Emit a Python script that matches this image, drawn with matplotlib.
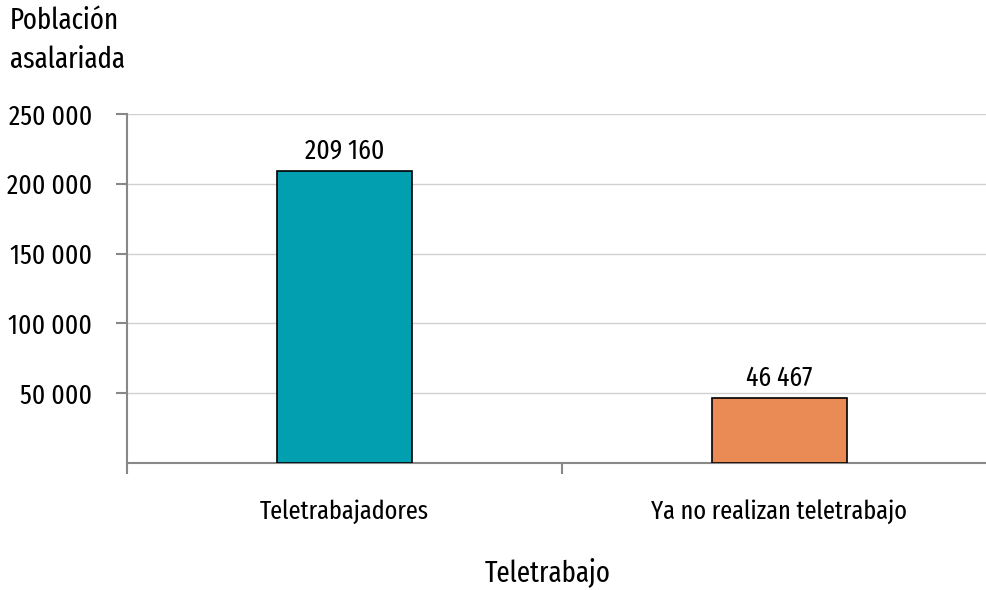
import matplotlib
matplotlib.use("Agg")
import matplotlib.pyplot as plt

categories = ["Teletrabajadores", "Ya no realizan teletrabajo"]
values = [209160, 46467]
value_labels = ["209 160", "46 467"]
yticks = [50000, 100000, 150000, 200000, 250000]
ytick_labels = ["50 000", "100 000", "150 000", "200 000", "250 000"]
colors = ["#029fb0", "#ea8a55"]

plt.rcParams["font.family"] = ["Fira Sans Extra Condensed", "DejaVu Sans"]

fig = plt.figure(figsize=(9.87, 5.9), dpi=100)
ax = fig.add_axes([127/987, 1-463/590, (997-127)/987, (463-114)/590])

x = list(range(len(categories)))
ax.bar(x, values, width=0.31, color=colors, edgecolor="black", linewidth=1.2, zorder=3)
for xi, v, lab in zip(x, values, value_labels):
    ax.text(xi, v + 5000, lab, ha="center", va="bottom", fontsize=20)

ax.set_xlim(-0.5, 1.5)
ax.set_ylim(0, 250000)
ax.set_yticks(yticks)
ax.set_yticklabels(ytick_labels, fontsize=20)
ax.set_xticks([0, 1])
ax.set_xticklabels(categories, fontsize=19)
ax.set_xticks([-0.5, 0.5, 1.5], minor=True)
ax.tick_params(axis="x", which="major", length=0, pad=26)
ax.tick_params(axis="x", which="minor", length=8, width=1.5, color="#888888", direction="out")
ax.tick_params(axis="y", length=8, width=1.5, color="#888888", pad=17)
ax.yaxis.grid(True, color="#d0d0d0", linewidth=1, zorder=0)
ax.set_axisbelow(True)
for s in ["top", "right"]:
    ax.spines[s].set_visible(False)
for s in ["left", "bottom"]:
    ax.spines[s].set_color("#888888")
    ax.spines[s].set_linewidth(1.5)

fig.text(10/987, 1-6/590, "Población\nasalariada", ha="left", va="top", fontsize=21, linespacing=1.5)
fig.text(548/987, 1-572/590, "Teletrabajo", ha="center", va="center", fontsize=21)

fig.savefig("out.png", dpi=100)
